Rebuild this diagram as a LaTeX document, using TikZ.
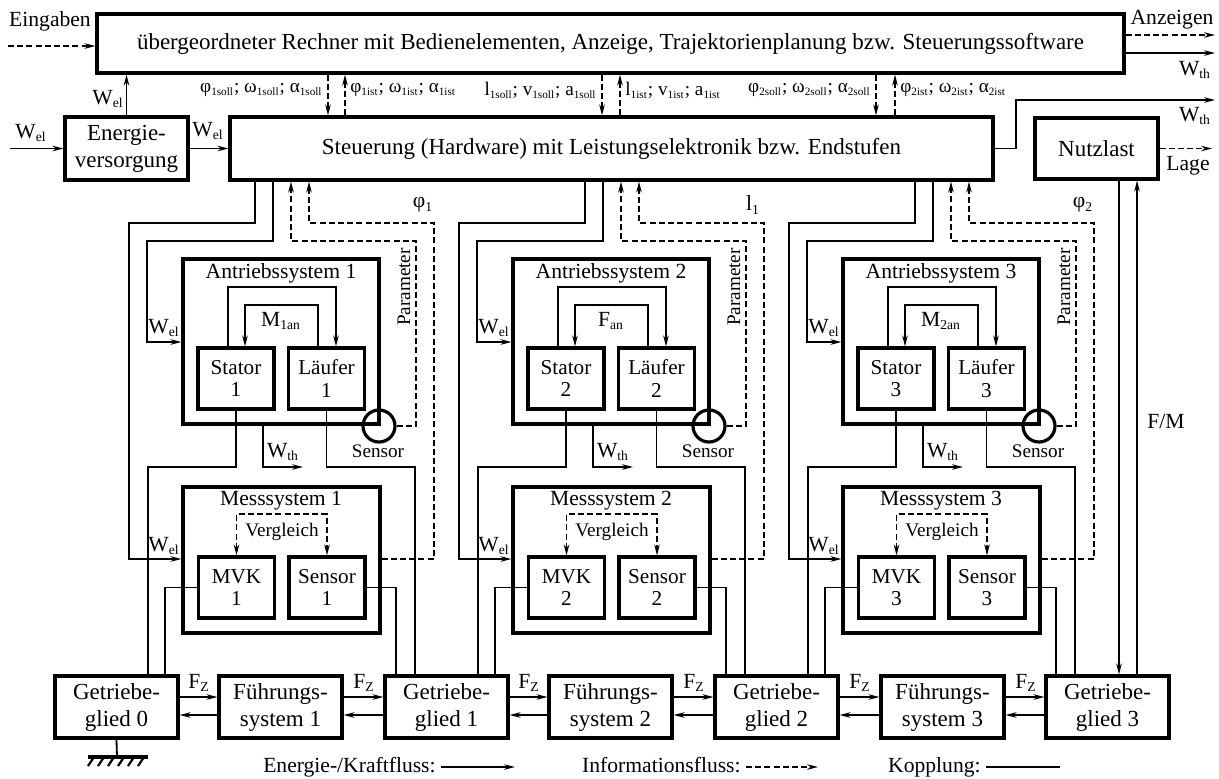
\documentclass[tikz,border=0pt]{standalone}
\usepackage{fontspec}
\setmainfont{Liberation Serif}
\usetikzlibrary{arrows.meta,calc}
\newcommand{\sub}[1]{\textsubscript{\fontsize{6.8}{7}\selectfont #1}}
\newcommand{\ssub}[1]{\textsubscript{\fontsize{5.6}{6}\selectfont #1}}
\begin{document}
\begin{tikzpicture}[x=0.5pt,y=-0.5pt,
  >={Stealth[length=5.5pt,width=2.8pt]},
  box/.style={draw,line width=1.6pt,inner sep=0pt,align=center,font=\fontsize{11.5}{13.5}\selectfont},
  sbox/.style={draw,line width=1.6pt,inner sep=0pt,align=center,font=\fontsize{10.6}{11.2}\selectfont,minimum width=38pt,minimum height=30.5pt},
  frame/.style={draw,line width=1.6pt,inner sep=0pt},
  conn/.style={line width=0.7pt},
  info/.style={line width=0.7pt,dash pattern=on 3pt off 1.6pt},
  lbl/.style={inner sep=0pt,font=\fontsize{10.8}{12}\selectfont},
  slbl/.style={inner sep=0pt,font=\fontsize{9.6}{10}\selectfont},
  sig/.style={inner sep=0pt,font=\fontsize{9.6}{10}\selectfont},
]
\useasboundingbox (0,0) rectangle (1219,778);

% ---------- top row ----------
\node[box,minimum width=513.5pt,minimum height=29.5pt] (pc) at (610.5,43.5)
  {übergeordneter Rechner mit Bedienelementen, Anzeige, Trajektorienplanung bzw. Steuerungssoftware};
\node[box,minimum width=61.5pt,minimum height=31.5pt] (ev) at (126.5,148.5) {Energie-\\versorgung};
\node[box,minimum width=381.5pt,minimum height=31.5pt] (ctrl) at (611.5,148.5)
  {Steuerung (Hardware) mit Leistungselektronik bzw. Endstufen};
\node[box,minimum width=61.5pt,minimum height=30.5pt] (nl) at (1096.5,148.5) {Nutzlast};

% ---------- bottom row ----------
\node[box,minimum width=61.5pt,minimum height=31pt] (g0) at (116.5,707) {Getriebe-\\glied 0};
\node[box,minimum width=61.5pt,minimum height=31pt] (f1) at (280.5,707) {Führungs-\\system 1};
\node[box,minimum width=61.5pt,minimum height=31pt] (g1) at (446.5,707) {Getriebe-\\glied 1};
\node[box,minimum width=61.5pt,minimum height=31pt] (f2) at (610.5,707) {Führungs-\\system 2};
\node[box,minimum width=61.5pt,minimum height=31pt] (g2) at (776.5,707) {Getriebe-\\glied 2};
\node[box,minimum width=61.5pt,minimum height=31pt] (f3) at (942.5,707) {Führungs-\\system 3};
\node[box,minimum width=61.5pt,minimum height=31pt] (g3) at (1107.5,707) {Getriebe-\\glied 3};

\foreach \a/\b/\mx in {g0/f1/199, f1/g1/364, g1/f2/529, f2/g2/694, g2/f3/860, f3/g3/1026}{
  \draw[conn,->] (\a.east |- 0,697) -- (\b.west |- 0,697);
  \draw[conn,->] (\b.west |- 0,715) -- (\a.east |- 0,715);
  \node[lbl] (fz\a) at (\mx,683) {F\sub{Z}};
}

% ---------- external connectors ----------
\coordinate (ein) at (8,46);
\draw[info,->] (ein) -- (pc.west |- ein);
\node[lbl] (teing) at (50,21) {Eingaben};
\coordinate (anz) at (1215,35);
\draw[info,->] (pc.east |- anz) -- (anz);
\node[lbl] (tanz) at (1172,20) {Anzeigen};
\coordinate (wtha) at (1215,53);
\draw[conn,->] (pc.east |- wtha) -- (wtha);
\node[lbl] (twtha) at (1195,70) {W\sub{th}};

\coordinate (win) at (10,148.5);
\draw[conn,->] (win) -- (ev.west);
\node[lbl] (twin) at (31,133) {W\sub{el}};
\draw[conn,->] (ev.east) -- (ctrl.west);
\node[lbl] (twev) at (208,131) {W\sub{el}};
\draw[conn,->] (ev.north) -- (ev.north |- pc.south);
\node[lbl] (twpc) at (108,99) {W\sub{el}};

\coordinate (wthb) at (1215,100);
\draw[conn,->] (ctrl.east) -| (1016,100) -- (wthb);
\node[lbl] (twthb) at (1195,116) {W\sub{th}};
\coordinate (lage) at (1212,148.5);
\draw[info,->] (nl.east) -- (lage);
\node[lbl] (tlage) at (1188,166) {Lage};

\draw[conn,->] (1119,0 |- nl.south) -- (1119,0 |- g3.north);
\draw[conn,->] (1137,0 |- g3.north) -- (1137,0 |- nl.south);
\node[lbl] (tfm) at (1166,421) {F/M};

% ---------- signals between computer and control ----------
\foreach \dn/\up/\sl/\il in {
  328/345/{φ\ssub{1soll}; ω\ssub{1soll}; α\ssub{1soll}}/{φ\ssub{1ist}; ω\ssub{1ist}; α\ssub{1ist}},
  602/620/{l\ssub{1soll}; v\ssub{1soll}; a\ssub{1soll}}/{l\ssub{1ist}; v\ssub{1ist}; a\ssub{1ist}},
  876/895/{φ\ssub{2soll}; ω\ssub{2soll}; α\ssub{2soll}}/{φ\ssub{2ist}; ω\ssub{2ist}; α\ssub{2ist}}}{
  \draw[info,->] (\dn,0 |- pc.south) -- (\dn,0 |- ctrl.north);
  \draw[info,->] (\up,0 |- ctrl.north) -- (\up,0 |- pc.south);
  \node[sig,anchor=east] (ts\dn) at (\dn-5,90) {\sl};
  \node[sig,anchor=west] (ti\dn) at (\up+5,90) {\il};
}

% ---------- the three modules ----------
\foreach \k/\km/\dx/\mlab/\slab in {1/0/0/{M\sub{1an}}/{φ\sub{1}}, 2/1/165/{F\sub{an}}/{l\sub{1}}, 3/2/330/{M\sub{2an}}/{φ\sub{2}}}{
\begin{scope}[xshift=\dx pt]
  % Antriebssystem
  \node[frame,minimum width=98pt,minimum height=82.5pt] (ant\k) at (281,341.5) {};
  \node[lbl] (tant\k) at (281,273) {Antriebssystem \k};
  \node[sbox] (st\k) at (236,378.5) {Stator\\\k};
  \node[sbox] (lf\k) at (326.5,378.5) {Läufer\\\k};
  \draw[conn,->] ([xshift=-4pt]st\k.north) |- (336,287) -- (336,0 |- lf\k.north);
  \draw[conn,->] ([xshift=-4.25pt]lf\k.north) |- (245,305) -- (245,0 |- st\k.north);
  \node[lbl] (tm\k) at (281,321) {\mlab};
  \node[draw,circle,line width=1.6pt,minimum size=16pt,inner sep=0pt] (sc\k) at (379,426) {};
  \node[slbl] (tsc\k) at (378,451) {Sensor};
  % Messsystem
  \node[frame,minimum width=98.5pt,minimum height=73pt] (ms\k) at (281.5,560) {};
  \node[lbl] (tms\k) at (281,501) {Messsystem \k};
  \node[sbox] (mvk\k) at (236.5,587.5) {MVK\\\k};
  \node[sbox] (sn\k) at (327,587.5) {Sensor\\\k};
  \draw[info,<->] (mvk\k.north) |- (327,514) -- (sn\k.north);
  \node[slbl] (tvg\k) at (282,532) {Vergleich};
  % energy supply
  \draw[conn,->] (255,0 |- ctrl.south) |- (129,223) |- (ms\k.west |- 0,559);
  \node[lbl] (twm\k) at (164,546) {W\sub{el}};
  \draw[conn,->] (273,0 |- ctrl.south) |- (147,241) |- (ant\k.west |- 0,342);
  \node[lbl] (twa\k) at (164,328) {W\sub{el}};
  % information back to control
  \draw[info,->] (sc\k.east) -| (416,241) -| (291,0 |- ctrl.south);
  \node[slbl,rotate=90] (tpar\k) at (404,287) {Parameter};
  \draw[info,->] (ms\k.east |- 0,559) -| (434,223) -| (309,0 |- ctrl.south);
  \node[lbl] (tsig\k) at (423,205) {\slab};
  % heat
  \draw[conn,->] (263,0 |- ant\k.south) |- (303,467);
  \node[lbl] (twth\k) at (283,452) {W\sub{th}};
  % couplings
  \draw[conn] (st\k.south) |- (148,467) -- (148,0 |- g\km.north);
  \draw[conn] (lf\k.south) |- (415,467) -- (415,0 |- g\k.north);
  \draw[conn] (mvk\k.west) -| (165,0 |- g\km.north);
  \draw[conn] (sn\k.east) -| (396,0 |- g\k.north);
\end{scope}
}

% ---------- ground ----------
\coordinate (gnd) at (117,757);
\draw[conn,line width=0.9pt] (g0.south) -- (gnd);
\draw[line width=1.6pt] (88,757) -- (148,757);
\foreach \hx in {94,104,...,148} \draw[line width=1.1pt] (\hx,757) -- ++(-6,9);

% ---------- legend ----------
\node[lbl,anchor=base east] (lg1) at (436,772) {Energie-/Kraftfluss:};
\coordinate (l1a) at (441,767); \coordinate (l1b) at (515,767);
\draw[conn,->] (l1a) -- (l1b);
\node[lbl,anchor=base east] (lg2) at (741,772) {Informationsfluss:};
\coordinate (l2a) at (746,767); \coordinate (l2b) at (818,767);
\draw[info,->] (l2a) -- (l2b);
\node[lbl,anchor=base east] (lg3) at (981,772) {Kopplung:};
\coordinate (l3a) at (986,767); \coordinate (l3b) at (1060,767);
\draw[conn] (l3a) -- (l3b);
\end{tikzpicture}
\end{document}
